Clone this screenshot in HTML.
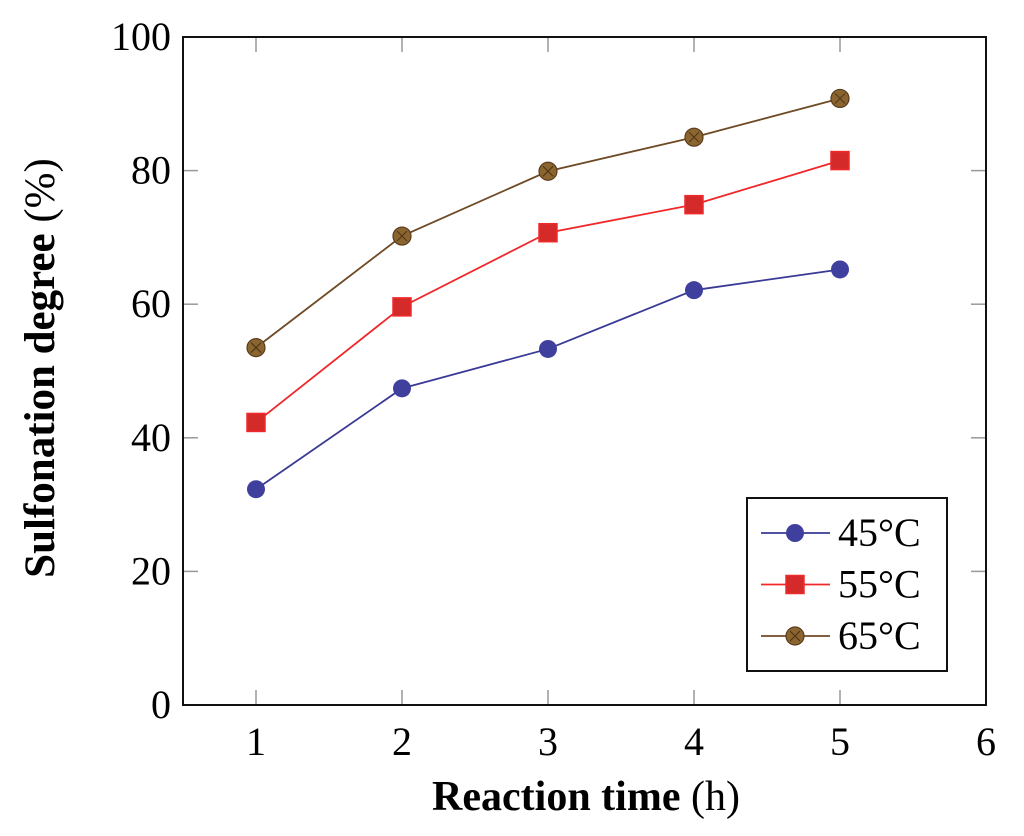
<!DOCTYPE html>
<html><head><meta charset="utf-8"><style>
body{margin:0;background:#fff;}
svg{display:block;font-family:"Liberation Serif",serif;}
</style></head><body>
<svg id="chart" width="1024" height="836" viewBox="0 0 1024 836">
<rect x="0" y="0" width="1024" height="836" fill="#fff"/>
<g id="ticks"></g>
<g id="series"></g>
<rect x="183" y="37" width="803" height="668" fill="none" stroke="#111" stroke-width="2"/>
<text x="586" y="810" text-anchor="middle" font-size="42"><tspan font-weight="bold">Reaction time</tspan> (h)</text>
<text transform="translate(54,368) rotate(-90)" text-anchor="middle" font-size="43"><tspan font-weight="bold">Sulfonation degree</tspan> (%)</text>
<g>
<rect x="747" y="498" width="200" height="173" fill="#fff" stroke="#111" stroke-width="2"/>
<g id="legend-items"></g>
</g>
</svg>
<script>
const xs=[1,2,3,4,5];
const s45=[32.3,47.4,53.3,62.1,65.2];
const s55=[42.3,59.6,70.7,74.9,81.5];
const s65=[53.5,70.2,79.9,85.0,90.8];
const labels=["45°C","55°C","65°C"];
const xTicks=[1,2,3,4,5,6];
const yTicks=[0,20,40,60,80,100];
const NS="http://www.w3.org/2000/svg";
const X=v=>183+(v-0.5)*146;
const Y=v=>705-v*6.68;
function mk(t,a,p){const e=document.createElementNS(NS,t);for(const k in a)e.setAttribute(k,a[k]);p.appendChild(e);return e;}
const tg=document.getElementById('ticks');
xTicks.forEach(v=>{
 const x=X(v);
 const l1=mk('line',{x1:x,x2:x,y1:705,y2:690,stroke:'#999','stroke-width':1.5},tg);
 
 
 mk('line',{x1:x,x2:x,y1:37,y2:52,stroke:'#999','stroke-width':1.5},tg);
 const t=mk('text',{x:x,y:755,'text-anchor':'middle','font-size':40},tg);
 t.textContent=v;
 
 
});
yTicks.forEach(v=>{
 const y=Y(v);
 const l1=mk('line',{x1:183,x2:198,y1:y,y2:y,stroke:'#999','stroke-width':1.5},tg);
 
 
 mk('line',{x1:971,x2:986,y1:y,y2:y,stroke:'#999','stroke-width':1.5},tg);
 const t=mk('text',{x:171,y:y+13,'text-anchor':'end','font-size':40},tg);
 t.textContent=v;
 
 
});
const sg=document.getElementById('series');
const styles=[{c:'#3a3a96',m:'circle',f:'#3f3f9e'},{c:'#f0282a',m:'square',f:'#d42a2a'},{c:'#6e4a26',m:'xcircle',f:'#8a6530'}];
function marker(kind,x,y,st,p){
 if(kind==='circle'){mk('circle',{cx:x,cy:y,r:9,fill:st.f},p);}
 else if(kind==='square'){mk('rect',{x:x-9,y:y-9,width:18,height:18,fill:st.f,stroke:'#f02a2a','stroke-width':1.5},p);}
 else{mk('circle',{cx:x,cy:y,r:9,fill:st.f,stroke:'#5a3c1c','stroke-width':1.2},p);
  mk('path',{d:`M${x-5} ${y-5}L${x+5} ${y+5}M${x-5} ${y+5}L${x+5} ${y-5}`,stroke:'#4a3015','stroke-width':1},p);}
}
[s45,s55,s65].forEach((s,i)=>{
 const st=styles[i];
 const g=mk('g',{},sg);
 
 
 mk('polyline',{points:xs.map((x,j)=>X(x)+','+Y(s[j])).join(' '),fill:'none',stroke:st.c,'stroke-width':1.8},g);
 xs.forEach((x,j)=>marker(st.m,X(x),Y(s[j]),st,g));
});
const lg=document.getElementById('legend-items');
labels.forEach((lab,i)=>{
 const y=533+i*51.5;const st=styles[i];
 const g=mk('g',{},lg);
 
 
 mk('line',{x1:761,x2:830,y1:y,y2:y,stroke:st.c,'stroke-width':1.8},g);
 marker(st.m,795,y,st,g);
 const t=mk('text',{x:838,y:y+13,'font-size':40},g);
 t.textContent=lab;
});
</script>
</body></html>
